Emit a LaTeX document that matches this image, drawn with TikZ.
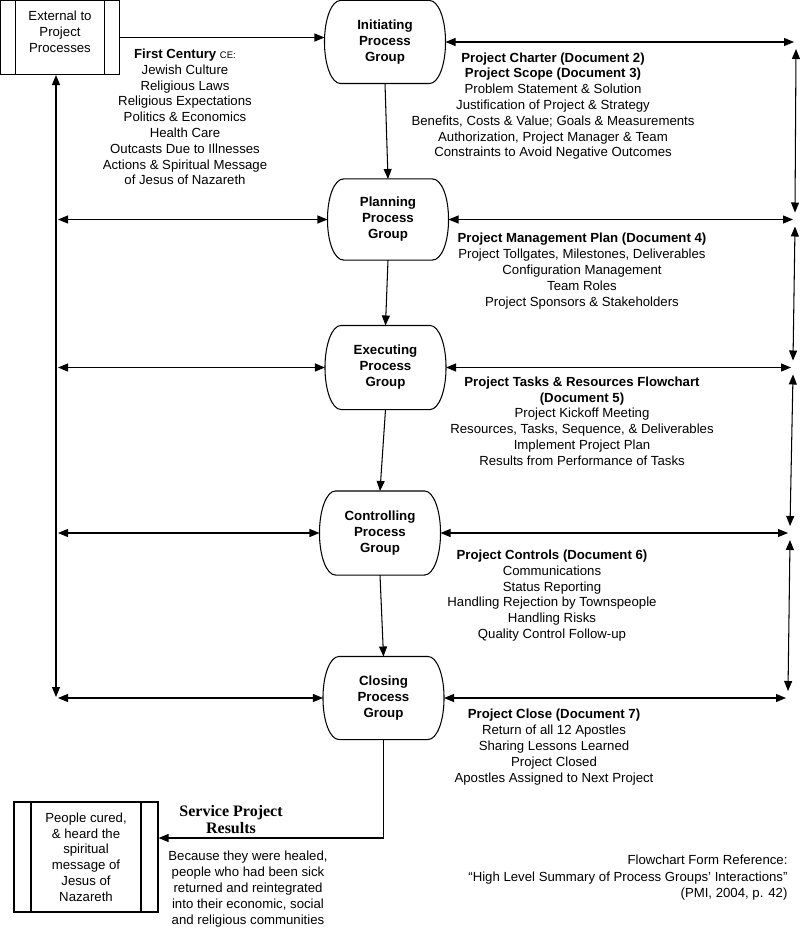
\documentclass[tikz,border=0pt]{standalone}
\usepackage{fontspec}
\setmainfont{Liberation Sans}
\newfontfamily\timesfont{Liberation Serif}
\usetikzlibrary{arrows.meta}
\begin{document}
\begin{tikzpicture}[x=1pt,y=-1pt,line width=1.05pt,
  tip/.style={-{Triangle[length=10pt,width=8pt]}},
  both/.style={{Triangle[length=10pt,width=8pt]}-{Triangle[length=10pt,width=8pt]}},
  group/.style={minimum width=120pt,minimum height=82pt,inner sep=0pt,align=center,
    font=\fontsize{13.3}{16}\selectfont\bfseries},
  sidebox/.style={draw,inner sep=0pt,align=center,font=\fontsize{13.2}{15.8}\selectfont,
    path picture={
      \draw ([xshift=#1]path picture bounding box.north west) -- ([xshift=#1]path picture bounding box.south west);
      \draw ([xshift=-#1]path picture bounding box.north east) -- ([xshift=-#1]path picture bounding box.south east);}},
  txt/.style={inner sep=0pt,align=center,font=\fontsize{13.2}{15.8}\selectfont},
]
\useasboundingbox (0,0) rectangle (803,928);

% boxes
\node[sidebox=15pt,minimum width=119pt,minimum height=74pt] (ext) at (60,37.5) {};
\node[inner sep=0pt,align=center,font=\fontsize{13.2}{15.8}\selectfont] (exttext) at (60,31.5) {External to\\Project\\Processes};
\node[sidebox=17pt,minimum width=144pt,minimum height=110pt] (people) at (86,857)
  {People cured,\\\& heard the\\spiritual\\message of\\Jesus of\\Nazareth};

% process groups
\node[group] (init) at (385,42) {Initiating\\Process\\Group};
\node[group,minimum height=80pt] (plan) at (388,219.5) {Planning\\Process\\Group};
\node[group,minimum height=83pt] (exec) at (385.5,367.5) {Executing\\Process\\Group};
\node[group,minimum height=83pt] (ctrl) at (380,533) {Controlling\\Process\\Group};
\node[group] (close) at (383.5,698) {Closing\\Process\\Group};
\foreach \n in {init,plan,exec,ctrl,close}{
  \draw ([xshift=16pt]\n.north west) -- ([xshift=-16pt]\n.north east)
    .. controls ([xshift=-7pt]\n.north east) and ([yshift=23pt]\n.east) .. (\n.east)
    .. controls ([yshift=-23pt]\n.east) and ([xshift=-7pt]\n.south east) .. ([xshift=-16pt]\n.south east)
    -- ([xshift=16pt]\n.south west)
    .. controls ([xshift=7pt]\n.south west) and ([yshift=-23pt]\n.west) .. (\n.west)
    .. controls ([yshift=23pt]\n.west) and ([xshift=7pt]\n.north west) .. ([xshift=16pt]\n.north west) -- cycle;
}

% texts
\node[txt] (fc) at (185,117) {\textbf{First Century} {\fontsize{9.5}{10}\selectfont CE:}\\Jewish Culture\\Religious Laws\\Religious Expectations\\Politics \& Economics\\Health Care\\Outcasts Due to Illnesses\\Actions \& Spiritual Message\\of Jesus of Nazareth};
\node[txt] (t1) at (553,106) {\textbf{Project Charter (Document 2)}\\\textbf{Project Scope (Document 3)}\\Problem Statement \& Solution\\Justification of Project \& Strategy\\Benefits, Costs \& Value; Goals \& Measurements\\Authorization, Project Manager \& Team\\Constraints to Avoid Negative Outcomes};
\node[txt] (t2) at (582,271) {\textbf{Project Management Plan (Document 4)}\\Project Tollgates, Milestones, Deliverables\\Configuration Management\\Team Roles\\Project Sponsors \& Stakeholders};
\node[txt] (t3) at (582,421) {\textbf{Project Tasks \& Resources Flowchart}\\\textbf{(Document 5)}\\Project Kickoff Meeting\\Resources, Tasks, Sequence, \& Deliverables\\Implement Project Plan\\Results from Performance of Tasks};
\node[txt] (t4) at (552,595.5) {\textbf{Project Controls (Document 6)}\\Communications\\Status Reporting\\Handling Rejection by Townspeople\\Handling Risks\\Quality Control Follow-up};
\node[txt] (t5) at (554,747) {\textbf{Project Close (Document 7)}\\Return of all 12 Apostles\\Sharing Lessons Learned\\Project Closed\\Apostles Assigned to Next Project};
\node[inner sep=0pt,align=center,font=\fontsize{16}{17}\selectfont\timesfont\bfseries] (spr) at (231,820) {Service Project\\Results};
\node[txt] (bec) at (248,889) {Because they were healed,\\people who had been sick\\returned and reintegrated\\into their economic, social\\and religious communities};
\node[txt,align=right,anchor=east,font=\fontsize{13.2}{16.5}\selectfont] (ref) at (788,878) {Flowchart Form Reference:\\“High Level Summary of Process Groups’ Interactions”\\(PMI, 2004, p. 42)};

% coordinates
\coordinate (Lb) at (56,697);
\coordinate (Lh) at (58,0);
\coordinate (R1) at (796,42);
\coordinate (R2) at (795,219.5);
\coordinate (R3) at (793,367.5);
\coordinate (R4) at (790,533);
\coordinate (R5) at (788,698);

% main flow
\draw[tip] (ext.east) -- (ext.east -| init.west);
\draw[tip] (init.south) -- (plan.north);
\draw[tip] (plan.south) -- (exec.north);
\draw[tip] (exec.south) -- (ctrl.north);
\draw[tip] (ctrl.south) -- (close.north);
\draw[tip] (close.south) |- ([yshift=19pt]people.east);

% left side
\draw[both] (ext.south -| Lb) -- (Lb);
\draw[both] (plan.west -| Lh) -- (plan.west);
\draw[both] (exec.west -| Lh) -- (exec.west);
\draw[both] (ctrl.west -| Lh) -- (ctrl.west);
\draw[both] (close.west -| Lh) -- (close.west);

% right side
\draw[both] (init.east) -- ([xshift=-2pt]R1);
\draw[both] (plan.east) -- ([xshift=-2pt]R2);
\draw[both] (exec.east) -- ([xshift=-2pt]R3);
\draw[both] (ctrl.east) -- ([xshift=-2pt]R4);
\draw[both] (close.east) -- ([xshift=-2pt]R5);
\draw[both] ([yshift=-7pt]R1) -- ([yshift=7pt]R2);
\draw[both] ([yshift=-7pt]R2) -- ([yshift=7pt]R3);
\draw[both] ([yshift=-7pt]R3) -- ([yshift=7pt]R4);
\draw[both] ([yshift=-7pt]R4) -- ([yshift=7pt]R5);
\end{tikzpicture}
\end{document}
